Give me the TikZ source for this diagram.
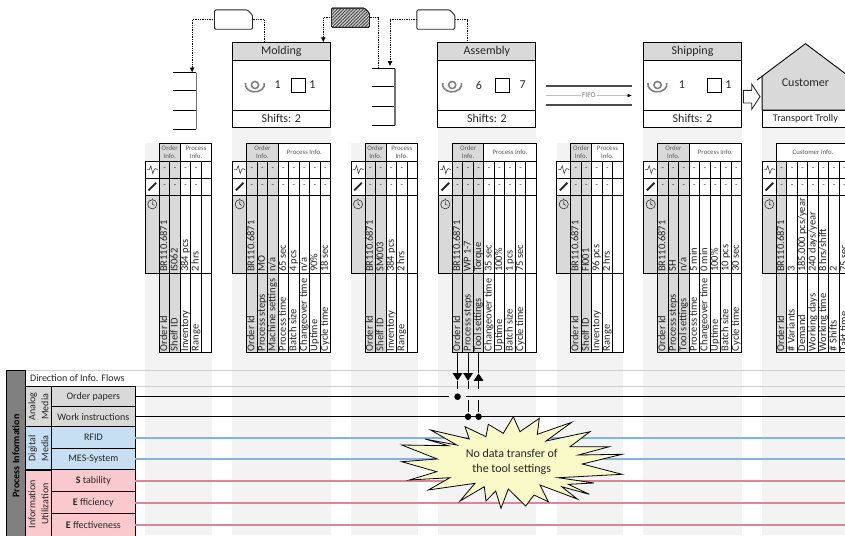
\documentclass[tikz,border=0pt]{standalone}
\usepackage{fontspec}
\setmainfont{Carlito}
\usetikzlibrary{arrows.meta,positioning,calc,patterns.meta}
\definecolor{cellgray}{HTML}{D9D9D9}
\definecolor{stripegray}{HTML}{F3F3F3}
\definecolor{sepgray}{HTML}{CDCDCD}
\definecolor{infogray}{HTML}{808080}
\definecolor{digiblue}{HTML}{C6DFF2}
\definecolor{usepink}{HTML}{F9C9CE}
\definecolor{lineblue}{HTML}{86B2DE}
\definecolor{linepink}{HTML}{D98798}
\definecolor{burstyellow}{HTML}{FAFAC8}
\definecolor{inkgray}{HTML}{262626}
\tikzset{
  prochead/.style={
    draw=black,
    line width=0.9pt,
    outer sep=0pt,
    minimum width=98pt,
    minimum height=17.7pt,
    inner sep=0pt,
    fill=cellgray,
    text=inkgray,
    font=\fontsize{12}{14}\selectfont
  },
  procbody/.style={prochead, minimum height=50pt, fill=white},
  procfoot/.style={prochead, minimum height=17pt, fill=white},
  countlabel/.style={inner sep=0pt, text=inkgray, font=\fontsize{12}{14}\selectfont},
  stockbox/.style={draw=black, line width=0.8pt, fill=white, minimum size=14pt, inner sep=0pt},
  kanban/.style={minimum width=38pt, minimum height=19.3pt, inner sep=0pt, outer sep=0pt},
  kanbanline/.style={draw=inkgray, line width=0.9pt, rounded corners=1.2pt},
  binbox/.style={minimum width=23pt, minimum height=56.8pt, inner sep=0pt, outer sep=0pt},
  binline/.style={draw=black, line width=0.8pt},
  infoflow/.style={-{Latex[length=5pt,width=5pt]}, densely dotted, line width=0.75pt, draw=black},
  infotie/.style={densely dotted, line width=0.75pt, draw=black},
  tablegrid/.style={draw=black, line width=0.9pt},
  celltext/.style={rotate=90, anchor=west, inner sep=0pt, text height=7pt, text depth=2pt, text=inkgray, font=\fontsize{10.5}{12}\selectfont},
  dashcell/.style={inner sep=0pt, text=inkgray, font=\fontsize{8}{9}\selectfont},
  headcell/.style={
    tablegrid,
    outer sep=0pt,
    minimum height=17.7pt,
    inner sep=0pt,
    align=center,
    text=black!65,
    font=\fontsize{6.8}{8.4}\selectfont
  },
  sidecell/.style={
    tablegrid,
    outer sep=0pt,
    minimum width=83.3pt,
    inner sep=0pt,
    text=inkgray,
    font=\fontsize{10}{12}\selectfont
  },
  groupcell/.style={
    tablegrid,
    outer sep=0pt,
    rotate=90,
    anchor=south,
    minimum height=26.7pt,
    inner sep=0pt,
    align=center,
    text=inkgray,
    font=\fontsize{10}{13}\selectfont
  },
  medialine/.style={draw=black, line width=0.9pt},
  blueline/.style={draw=lineblue, line width=2pt},
  pinkline/.style={draw=linepink, line width=2pt},
  flowline/.style={draw=black, line width=0.9pt},
  flowdash/.style={flowline, dash pattern=on 8.5pt off 11pt on 12pt off 100pt},
  flowdot/.style={circle, fill=black, minimum size=6.6pt, inner sep=0pt},
  flowhead/.style={-{Triangle[length=7.6pt,width=9.6pt]}},
  wavemark/.pic={\draw[line width=0.6pt, black!75] (-5.5,0) -- (-3,0) -- (-1.5,-4) -- (0.5,4) -- (2,0) -- (3,-1) -- (5.5,0);},
  penmark/.pic={\draw[line width=1.9pt, black!85] (-3.8,3.8) -- (3.8,-3.8);},
  watchmark/.pic={
    \draw[line width=0.6pt, black!80] (0,0) circle[radius=4.6] (0,-4.6) -- (0,-6) (0,0) -- (0,-3) (0,0) -- (2,1);
  },
  opmark/.pic={
    \draw[line width=1.6pt, black!50] (0,0) circle[radius=3.6];
    \draw[line width=1.6pt, black!50] (-9.5,-2) arc[start angle=190, end angle=-10, x radius=9.5, y radius=7.6];
  }
}
\newcommand{\infotable}[5]{%
  \coordinate (#1head) at (#2,161);
  \draw[tablegrid, fill=white] ({#2-14},161) rectangle ++(14,34);
  \draw[tablegrid, fill=cellgray] ({#2-14},195) rectangle ++(14,78.3);
  \foreach \i in {1,...,#4} {
    \pgfmathsetmacro{\cellx}{#2+(\i-1)*10.5}
    \ifnum\i>#3 \def\cellfill{white}\else\def\cellfill{cellgray}\fi
    \draw[tablegrid, fill=\cellfill] (\cellx,161) rectangle ++(10.5,191.3);
  }
  \foreach \rowy in {178.3,195,273.3}
    \draw[tablegrid] ({#2-14},\rowy) -- ({#2+#4*10.5},\rowy);
  \foreach \lab/\val [count=\i] in {#5} {
    \pgfmathsetmacro{\cellx}{#2+(\i-0.5)*10.5}
    \node[celltext] (#1val\i) at (\cellx,272) {\val};
    \node[celltext] (#1lab\i) at (\cellx,351.3) {\lab};
    \node[dashcell] (#1da\i) at (\cellx,169.6) {-};
    \node[dashcell] (#1db\i) at (\cellx,186.6) {-};
    \coordinate (#1foot\i) at (\cellx,352.3);
  }
  \pic at ({#2-7},169.6) {wavemark};
  \pic at ({#2-7},186.6) {penmark};
  \pic at ({#2-7},204.3) {watchmark};
}
\newcommand{\kanbanpath}[2]{%
  \path[kanbanline, #2] (#1.south west) -- (#1.north west) -- ($(#1.north east)+(-5,0)$) -- ($(#1.north east)+(0,5)$) -- (#1.south east) -- cycle;
}
\begin{document}
\begin{tikzpicture}[x=1pt, y=-1pt]
\useasboundingbox (0,0) rectangle (845,535);
\clip (0,0) rectangle (845,535);

% Column stripes
\foreach \xa/\xb/\ya in {145/212/143.3, 232.3/330.7/127, 351/417.7/143.3, 438/536/127, 556.7/623/143.3, 643.3/741.7/127, 762.3/845/127}
  \fill[stripegray] (\xa,\ya) rectangle (\xb,535);
\coordinate (rightend) at (845,0);
\coordinate (leftend) at (25,0);
\foreach \ysep in {370,386.7}
  \draw[sepgray, line width=1pt] (25,\ysep) -- (845,\ysep);

% Process boxes
\node[prochead] (molding) at (281.3,51.15) {Molding};
\node[procbody, below=0pt of molding] (moldingbody) {};
\node[procfoot, below=0pt of moldingbody] (moldingshifts) {Shifts: 2};
\node[prochead, right=107.6pt of molding] (assembly) {Assembly};
\node[procbody, below=0pt of assembly] (assemblybody) {};
\node[procfoot, below=0pt of assemblybody] (assemblyshifts) {Shifts: 2};
\node[prochead, right=107.6pt of assembly] (shipping) {Shipping};
\node[procbody, below=0pt of shipping] (shippingbody) {};
\node[procfoot, below=0pt of shippingbody] (shippingshifts) {Shifts: 2};
\foreach \pname/\opx/\crew/\crewx/\boxx/\wip/\wipx in {molding/22.7/1/45.4/66/1/80, assembly/14.3/6/41/64.1/7/84.7, shipping/14/1/38.4/71/1/85} {
  \pic at ($(\pname body.west)+(\opx,0)$) {opmark};
  \node[countlabel] (\pname crew) at ($(\pname body.west)+(\crewx,0)$) {\crew};
  \node[stockbox] (\pname stock) at ($(\pname body.west)+(\boxx,0)$) {};
  \node[countlabel] (\pname wip) at ($(\pname body.west)+(\wipx,0)$) {\wip};
}

% Customer
\node[procfoot, minimum width=86.7pt, right=20.6pt of shippingshifts, font=\fontsize{10.3}{12}\selectfont] (trolly) {Transport Trolly};
\draw[fill=cellgray, line width=0.9pt] (trolly.north west) -- ++(0,-33.8) -- ++(43.35,-32.5) -- ++(43.35,32.5) -- (trolly.north east) -- cycle;
\draw[line width=0.9pt] ($(trolly.north west)+(0,-33.8)$) -- ++(-5,3.8);
\node[countlabel, above=27.3pt of trolly.north, anchor=center] (customer) {Customer};
\coordinate (shiparrow) at (743.3,96.7);
\draw[draw=inkgray, line width=0.9pt, fill=white, line join=miter] (shiparrow) ++(0,-6.3) -- ++(8.4,0) -- ++(0,-6.3) -- ++(8.3,12.6) -- ++(-8.3,12.6) -- ++(0,-6.3) -- ++(-8.4,0) -- cycle;

% FIFO lane
\node[minimum width=85.7pt, minimum height=19pt, inner sep=0pt, outer sep=0pt] (fifo) at (588.85,95.5) {};
\draw[black!70, line width=1.4pt] (fifo.north west) -- (fifo.north east);
\draw[black!70, line width=1.4pt] (fifo.south west) -- (fifo.south east);
\node[fill=white, inner sep=1pt, text=black!55, font=\fontsize{7.5}{9}\selectfont] (fifolabel) at (fifo.center) {FIFO};
\draw[black!25, line width=0.5pt] (fifo.west) -- (fifolabel);
\draw[black!25, line width=0.5pt, -{Triangle[length=4pt,width=3pt,black]}] (fifolabel) -- (fifo.east);

% Kanban cards and bins
\node[kanban] (kanbana) at (233.5,19.6) {};
\node[kanban] (kanbanb) at (350.5,17.8) {};
\node[kanban] (kanbanc) at (435.8,19.6) {};
\kanbanpath{kanbana}{fill=white}
\kanbanpath{kanbanb}{fill=cellgray}
\kanbanpath{kanbanb}{pattern={Lines[angle=45,distance=2.3pt,line width=1pt]}, pattern color=black!70}
\kanbanpath{kanbanc}{fill=white}
\node[binbox] (bina) at (184.65,101) {};
\node[binbox] (binb) at (383.5,96.9) {};
\foreach \binname in {bina,binb} {
  \foreach \f in {0,0.31,0.66,1}
    \draw[binline] ($(\binname.north west)!\f!(\binname.south west)$) -- ($(\binname.north east)!\f!(\binname.south east)$);
  \draw[black!55, line width=1.1pt] (\binname.north east) -- (\binname.south east);
}
\coordinate (binaslot) at ($(bina.north west)+(19,0)$);
\coordinate (binbtie) at ($(binb.north west)+(6.3,0)$);
\coordinate (binbslot) at ($(binb.north west)+(18,-2.3)$);
\coordinate (moldingtie) at ($(molding.north west)+(32,0)$);
\coordinate (moldingslot) at ($(molding.north east)+(-7,0)$);
\coordinate (assemblytie) at ($(assembly.north west)+(29.7,0)$);
\draw[infoflow] (kanbana.west) -| (binaslot);
\draw[infotie] (kanbana.east) -| (moldingtie);
\draw[infoflow] (kanbanb.west) -| (moldingslot);
\draw[infotie] (kanbanb.east) -| (binbtie);
\draw[infoflow] (kanbanc.west) -| (binbslot);
\draw[infotie] (kanbanc.east) -| (assemblytie);

% Data tables
\infotable{shelfa}{159.3}{2}{5}{Order Id/BR110.6871, Shelf ID/IS062, Inventory/384 pcs, Range/2 hrs}
\infotable{mold}{246.7}{3}{8}{Order Id/BR110.6871, Process steps/MO, Machine settings/{n/a}, Process time/65 sec, Batch size/4 pcs, Changeover time/{n/a}, Uptime/90\%, Cycle time/18 sec}
\infotable{shelfb}{365}{2}{5}{Order Id/BR110.6871, Shelf ID/SM003, Inventory/384 pcs, Range/2 hrs}
\infotable{assy}{452.3}{3}{8}{Order Id/BR110.6871, Process steps/WP 1-7, Tool settings/Torque, Changeover time/35 sec, Uptime/100\%, Batch size/1 pcs, Cycle time/75 sec}
\infotable{shelfc}{570.7}{2}{5}{Order Id/BR110.6871, Shelf ID/FI001, Inventory/96 pcs, Range/2 hrs}
\infotable{ship}{657.7}{3}{8}{Order Id/BR110.6871, Process steps/SH, Tool settings/{n/a}, Process time/5 min, Changeover time/0 min, Uptime/100\%, Batch size/10 pcs, Cycle time/30 sec}
\infotable{cust}{776.3}{1}{7}{Order Id/BR110.6871, \# Variants/3, Demand/{185.000 pcs/year}, Working days/{240 days/year}, Working time/{8 hrs/shift}, \# Shifts/2, Takt time/75 sec}

\foreach \tname/\cellsa/\cellsb/\heada/\headb in {shelfa/21/31.5/{Order\\Info.}/{Process\\Info.}, mold/31.5/52.5/{Order\\Info.}/{Process Info.}, shelfb/21/31.5/{Order\\Info.}/{Process\\Info.}, assy/31.5/52.5/{Order\\Info.}/{Process Info.}, shelfc/21/31.5/{Order\\Info.}/{Process\\Info.}, ship/31.5/52.5/{Order\\Info.}/{Process Info.}} {
  \node[headcell, fill=cellgray, anchor=south west, minimum width=\cellsa] (\tname order) at (\tname head) {\heada};
  \node[headcell, fill=white, right=0pt of \tname order, minimum width=\cellsb] (\tname proc) {\headb};
}
\node[headcell, fill=white, anchor=south west, minimum width=73.5] (custinfo) at (custhead) {Customer Info.};

% Side panel
\node[anchor=west, inner sep=0pt, text=inkgray, font=\fontsize{10}{12}\selectfont] (dirflows) at (30,378.5) {Direction of Info. Flows};
\node[sidecell, fill=cellgray, minimum height=20pt] (orderpapers) at (93.35,396.7) {Order papers};
\node[sidecell, fill=cellgray, minimum height=20pt, below=0pt of orderpapers] (workinstr) {Work instructions};
\node[sidecell, fill=digiblue, minimum height=21.6pt, below=0pt of workinstr] (rfid) {RFID};
\node[sidecell, fill=digiblue, minimum height=21.4pt, below=0pt of rfid] (mes) {MES-System};
\node[sidecell, fill=usepink, minimum height=22pt, below=0pt of mes] (stability) {\textbf{S} tability};
\node[sidecell, fill=usepink, minimum height=21.6pt, below=0pt of stability] (efficiency) {\textbf{E} fficiency};
\node[sidecell, fill=usepink, minimum height=24pt, below=0pt of efficiency] (effectiveness) {\textbf{E} ffectiveness};
\node[groupcell, fill=cellgray, minimum width=40pt] (analog) at (orderpapers.south west) {Analog\\Media};
\node[groupcell, fill=digiblue, minimum width=43pt] (digital) at (rfid.south west) {Digital\\Media};
\node[groupcell, fill=usepink, minimum width=68pt] (utilization) at ($(efficiency.west)+(0,1.5)$) {Information\\Utilization};
\node[groupcell, fill=infogray, minimum width=172pt, minimum height=18.3pt, text=black, font=\bfseries\fontsize{10}{12}\selectfont] (procinfo) at ($(leftend)+(0,456)$) {Process Information};

% Media lines
\node[flowdot] (dotorder) at (assyfoot1 |- orderpapers) {};
\node[flowdot] (dotworka) at (assyfoot2 |- workinstr) {};
\node[flowdot] (dotworkb) at (assyfoot3 |- workinstr) {};
\draw[medialine, shorten >=5pt] (orderpapers.east) -- (dotorder);
\draw[medialine, shorten <=5pt] (dotorder) -- (orderpapers -| rightend);
\draw[medialine] (workinstr.east) -- (workinstr -| rightend);
\draw[blueline] (rfid.east) -- (rfid -| rightend);
\draw[blueline] (mes.east) -- (mes -| rightend);
\draw[pinkline] (stability.east) -- (stability -| rightend);
\draw[pinkline] (efficiency.east) -- (efficiency -| rightend);
\draw[pinkline] (effectiveness.east) -- (effectiveness -| rightend);

% Flows to the assembly table
\coordinate (tipa) at ($(assyfoot1)+(0,28.4)$);
\coordinate (tipb) at ($(assyfoot2)+(0,28.4)$);
\coordinate (tipc) at ($(assyfoot3)+(0,21)$);
\coordinate (basec) at ($(assyfoot3)+(0,28.4)$);
\draw[flowline, flowhead] (assyfoot1) -- (tipa);
\draw[flowline, flowhead] (assyfoot2) -- (tipb);
\draw[flowline] (assyfoot3) -- (tipc);
\draw[flowline, flowhead] (basec) -- (tipc);
\draw[flowdash] (tipa) -- (dotorder);
\draw[flowdash] (tipb) -- (dotworka);
\draw[flowdash] (basec) -- (dotworkb);

% Callout
\draw[fill=burstyellow, draw=black, line width=0.8pt]
  (513.3,416.7) -- (520,431.7) -- (539.3,418.3) -- (537.3,434.3) -- (571.7,422.3) -- (546,441) -- (590,431.7) -- (570,446.7)
  -- (609.3,446.7) -- (578.3,455) -- (622,454.3) -- (582.3,464) -- (622,474.3) -- (558.3,477.7) -- (594,483) -- (568.3,484.3)
  -- (589.3,494.3) -- (561.7,486.7) -- (577.3,499) -- (540,485) -- (548.3,501.7) -- (534,495) -- (525.7,506) -- (508.3,489)
  -- (501,508.3) -- (495.7,491) -- (486,501) -- (484.3,486.7) -- (460,501) -- (475,483.3) -- (428.3,490) -- (450,477.7)
  -- (409.3,480) -- (436.7,471.7) -- (401.7,461.7) -- (437.3,459) -- (401.7,445) -- (448.3,445.7) -- (425,439) -- (456.7,445)
  -- (430.7,430) -- (469.3,439) -- (465,426.7) -- (486,436.7) -- (488.3,424.3) -- (503.3,433.3) -- cycle;
\node[align=center, inner sep=0pt, text=inkgray, font=\fontsize{12}{15}\selectfont] (nodata) at (511.7,462.3) {No data transfer of\\the tool settings};

\end{tikzpicture}
\end{document}
